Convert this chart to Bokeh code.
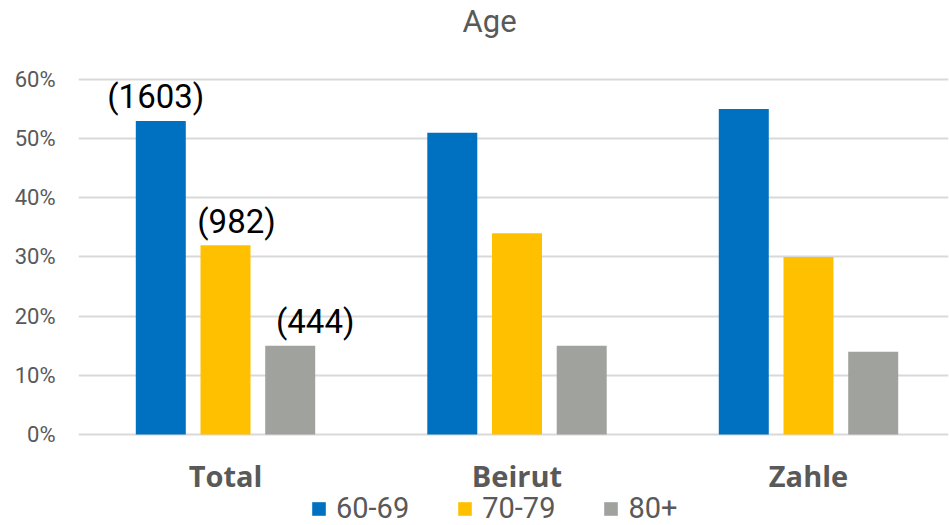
from bokeh.plotting import figure
from bokeh.models import (Range1d, FixedTicker, NumeralTickFormatter, Legend,
                          LegendItem, ColumnDataSource)
from bokeh.transform import dodge
from bokeh.core.properties import value
from bokeh.embed import file_html
from bokeh.resources import INLINE

# ---- data ----
categories = ["Total", "Beirut", "Zahle"]
series = ["60-69", "70-79", "80+"]
v_60_69 = [0.53, 0.51, 0.55]
v_70_79 = [0.32, 0.34, 0.30]
v_80_plus = [0.15, 0.15, 0.14]
total_counts = ["(1603)", "(982)", "(444)"]
y_ticks = [0, 0.1, 0.2, 0.3, 0.4, 0.5, 0.6]

# ---- styles ----
colors = ["#0070C0", "#FFC000", "#A0A29E"]
dodges = [-0.222, 0.0, 0.222]
label_dx = [-5, 11, 25]
bar_w = 0.1715
grey_txt = "#595959"
FONT = "Roboto"

p = figure(width=949, height=525, output_backend="svg", toolbar_location=None,
           x_range=Range1d(-0.5043, 2.4803), y_range=Range1d(-0.1538, 0.6642),
           min_border_left=78, min_border_right=1, min_border_top=41,
           min_border_bottom=0)

idx = list(range(len(categories)))
values = [v_60_69, v_70_79, v_80_plus]
items = []
for i, (s, vals) in enumerate(zip(series, values)):
    src = ColumnDataSource(dict(x=idx, top=vals))
    r = p.vbar(x=dodge("x", dodges[i], range=p.x_range), top="top", bottom=0,
               width=bar_w, source=src, fill_color=colors[i], line_color=None)
    items.append(LegendItem(label=s, renderers=[r]))

# count labels on the "Total" group
lab_src = ColumnDataSource(dict(
    x=[idx[0] + d for d in dodges],
    y=[v[0] for v in values],
    text=total_counts,
    dx=label_dx,
))
p.text(x="x", y="y", text="text", source=lab_src, x_offset="dx", y_offset=-24,
       text_align="center", text_baseline="alphabetic",
       text_font=value(FONT), text_font_size="33px", text_color="black")

# category labels under the groups
cat_src = ColumnDataSource(dict(x=idx, y=[0] * len(idx), text=categories))
p.text(x="x", y="y", text="text", source=cat_src, y_offset=41,
       text_align="center", text_baseline="alphabetic",
       text_font=value("Open Sans"), text_font_style="bold",
       text_font_size="29px", text_color=grey_txt)

# y axis
p.yaxis.ticker = FixedTicker(ticks=y_ticks)
p.yaxis.formatter = NumeralTickFormatter(format="0%")
p.yaxis.axis_line_color = None
p.yaxis.major_tick_line_color = None
p.yaxis.minor_tick_line_color = None
p.yaxis.major_tick_out = 0
p.yaxis.major_tick_in = 0
p.yaxis.major_label_text_font = FONT
p.yaxis.major_label_text_font_size = "22px"
p.yaxis.major_label_text_color = grey_txt
p.yaxis.major_label_standoff = 23
p.xaxis.visible = False

p.xgrid.grid_line_color = None
p.ygrid.grid_line_color = "#D9D9D9"
p.ygrid.grid_line_width = 2
p.outline_line_color = None

# title
p.title.text = "Age"
p.title.text_font = FONT
p.title.text_font_style = "normal"
p.title.text_font_size = "31px"
p.title.text_color = grey_txt
p.title.align = "left"
p.title.offset = 384
p.title.vertical_align = "top"
p.title.standoff = 0

legend = Legend(items=items, orientation="horizontal", location=(232, 0),
                padding=0, margin=0, spacing=47, label_standoff=9,
                glyph_width=17, glyph_height=17,
                label_text_font=FONT, label_text_font_size="29px",
                label_text_color=grey_txt, border_line_color=None,
                background_fill_alpha=0)
p.add_layout(legend)

open("out.html", "w").write(file_html(p, INLINE))
